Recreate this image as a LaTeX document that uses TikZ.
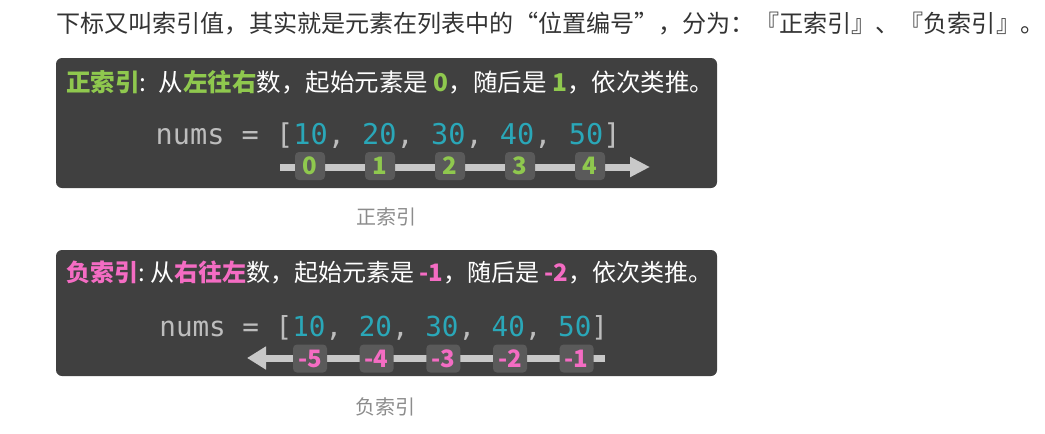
\documentclass[tikz,border=0pt]{standalone}
\usepackage{fontspec}
\newfontfamily\cjk{Noto Sans CJK SC}
\newfontfamily\mono{DejaVu Sans Mono}
\usetikzlibrary{arrows.meta}
\definecolor{boxbg}{HTML}{404040}
\definecolor{idxbg}{HTML}{5A5A5A}
\definecolor{linec}{HTML}{C8C8C8}
\definecolor{grn}{HTML}{8FC84E}
\definecolor{pnk}{HTML}{F46CC3}
\definecolor{numc}{HTML}{2AA7B8}
\definecolor{brk}{HTML}{BDBDBD}
\definecolor{txtc}{HTML}{333333}
\definecolor{capc}{HTML}{8C8C8C}
\newcommand{\gb}[1]{{\bfseries\color{grn}#1}}
\newcommand{\pb}[1]{{\bfseries\color{pnk}#1}}
\newcommand{\nm}[1]{\textcolor{numc}{#1}}
\tikzset{
  panel/.style={fill=boxbg, rounded corners=6pt, inner sep=0pt, minimum width=661pt},
  title/.style={anchor=west, inner sep=0pt, text=white},
  code/.style={anchor=west, inner sep=0pt, text=brk},
  idx/.style={fill=idxbg, rounded corners=4pt, inner sep=0pt, minimum height=28pt,
    text height=17pt, text depth=0pt, font=\cjk\bfseries\fontsize{24}{24}\selectfont},
  gidx/.style={idx, minimum width=30pt, text=grn},
  pidx/.style={idx, minimum width=34pt, text=pnk},
  arrowline/.style={draw=linec, line width=7pt},
  caption/.style={inner sep=0pt, text=capc, font=\cjk\fontsize{20}{24}\selectfont}
}
\begin{document}
\begin{tikzpicture}[x=1pt,y=-1pt]
\useasboundingbox (0,0) rectangle (1045,434);
% top sentence
\node[anchor=west, inner sep=0pt, text=txtc, font=\cjk\fontsize{24.1}{28}\selectfont] (intro) at (56,24)
  {下标又叫索引值，其实就是元素在列表中的“位置编号”，分为：『正索引』、『负索引』。};
% panel 1
\node[panel, minimum height=130pt] (pan1) at (386.5,123) {};
\node[title, font=\cjk\fontsize{24.5}{28}\selectfont] (t1) at (66,82) {\gb{正索引}\makebox[19pt][l]{:}从\gb{左往右}数，起始元素是 \gb{0}，随后是 \gb{1}，依次类推。};
\node[code, font=\mono\fontsize{28.6}{32}\selectfont] (c1) at (155.4,136)
  {nums = [\nm{10}, \nm{20}, \nm{30}, \nm{40}, \nm{50}]};
\coordinate (a1s) at (280,167);
\coordinate (a1e) at (650,167);
\draw[arrowline, -{Triangle[length=20pt,width=19pt]}] (a1s) -- (a1e);
\node[gidx] (g0) at (310,166) {0};
\node[gidx] (g1) at (380,166) {1};
\node[gidx] (g2) at (450,166) {2};
\node[gidx] (g3) at (520,166) {3};
\node[gidx] (g4) at (590,166) {4};
\node[caption] (cap1) at (386,217) {正索引};
% panel 2
\node[panel, minimum height=126pt] (pan2) at (386.5,313) {};
\node[title, font=\cjk\fontsize{24}{28}\selectfont] (t2) at (66,272) {\pb{负索引}\makebox[12pt][l]{:}从\pb{右往左}数，起始元素是 \pb{-1}，随后是 \pb{-2}，依次类推。};
\node[code, font=\mono\fontsize{27.6}{32}\selectfont] (c2) at (159.2,327.5)
  {nums = [\nm{10}, \nm{20}, \nm{30}, \nm{40}, \nm{50}]};
\coordinate (a2s) at (605,358);
\coordinate (a2e) at (247,358);
\draw[arrowline, -{Triangle[length=19pt,width=22pt]}] (a2s) -- (a2e);
\node[pidx] (n5) at (310,358.5) {-5};
\node[pidx] (n4) at (376.6,358.5) {-4};
\node[pidx] (n3) at (443.3,358.5) {-3};
\node[pidx] (n2) at (510,358.5) {-2};
\node[pidx] (n1) at (576.6,358.5) {-1};
\node[caption] (cap2) at (385,407) {负索引};
\end{tikzpicture}
\end{document}
